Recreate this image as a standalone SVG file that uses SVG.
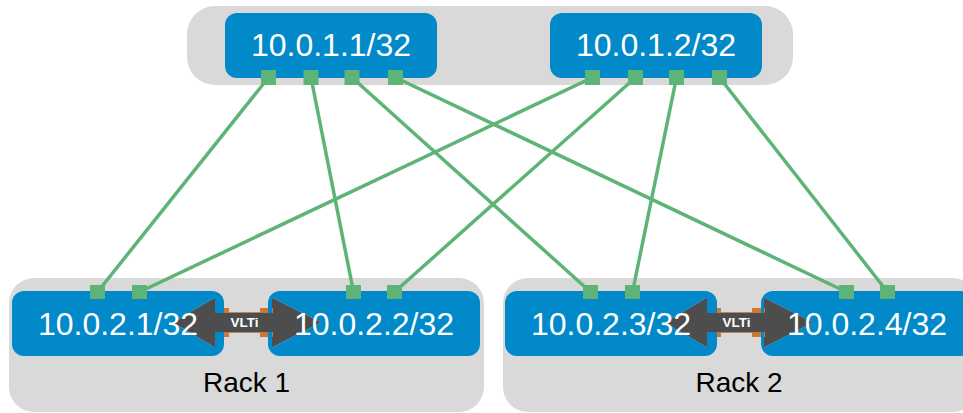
<svg xmlns="http://www.w3.org/2000/svg" xmlns:xlink="http://www.w3.org/1999/xlink" width="963" height="413" viewBox="0 0 963 413">
  <style>
    .container { fill: #D9D9D9; }
    .node { fill: #0289CA; }
    .port { fill: #5DB476; }
    .link { stroke: #5DB476; stroke-width: 3.5; fill: none; }
    .label { font-family: "Liberation Sans", Arial, sans-serif; font-size: 32px; fill: #FFFFFF; text-anchor: middle; }
    .rack { font-family: "Liberation Sans", Arial, sans-serif; font-size: 28px; fill: #000000; text-anchor: middle; }
    .vlti-text { font-family: "Liberation Sans", Arial, sans-serif; font-size: 13.5px; font-weight: bold; fill: #FFFFFF; text-anchor: middle; }
    .arrow { fill: #4D4D4D; }
    .orange { fill: #D07634; }
  </style>
  <defs>
    <path id="vlti-shape" d="M173,322.5 L215,297.5 L215,313 L272,313 L272,297.5 L321,322.5 L272,347.5 L272,332 L215,332 L215,347.5 Z"/>
    <mask id="cut-vlti" maskUnits="userSpaceOnUse" x="0" y="0" width="963" height="413">
      <rect x="0" y="0" width="963" height="413" fill="#FFFFFF"/>
      <use xlink:href="#vlti-shape" fill="#000000"/>
      <use xlink:href="#vlti-shape" fill="#000000" transform="translate(492,0)"/>
    </mask>
    <g id="vlti">
      <rect x="215" y="312.3" width="57" height="20.4" fill="#A0643A"/>
      <use xlink:href="#vlti-shape" class="arrow"/>
      <rect class="orange" x="216" y="308" width="13" height="5"/>
      <rect class="orange" x="260" y="308" width="13" height="5"/>
      <rect class="orange" x="216" y="332" width="13" height="5"/>
      <rect class="orange" x="260" y="332" width="13" height="5"/>
    </g>
  </defs>

  <g id="containers">
    <rect id="spine-container" class="container" x="187" y="6" width="606" height="79" rx="28" ry="28"/>
    <g id="rack1">
      <rect class="container" x="9" y="278" width="475" height="134" rx="25" ry="25"/>
      <text class="rack" x="246.5" y="392">Rack 1</text>
    </g>
    <g id="rack2">
      <rect class="container" x="503" y="278" width="475" height="134" rx="25" ry="25"/>
      <text class="rack" x="739" y="392">Rack 2</text>
    </g>
  </g>

  <g id="connectors">
    <line class="link" x1="268.5" y1="77.5" x2="97.5" y2="292"/>
    <line class="link" x1="311" y1="77.5" x2="353.5" y2="292"/>
    <line class="link" x1="352" y1="77.5" x2="590.5" y2="292"/>
    <line class="link" x1="395.5" y1="77.5" x2="846.5" y2="292"/>
    <line class="link" x1="592.5" y1="77.5" x2="139.5" y2="292"/>
    <line class="link" x1="635.5" y1="77.5" x2="394.5" y2="292"/>
    <line class="link" x1="676.5" y1="77.5" x2="632.5" y2="292"/>
    <line class="link" x1="719.5" y1="77.5" x2="887.5" y2="292"/>
    <g id="vlti-rack1">
      <use xlink:href="#vlti"/>
      <text class="vlti-text" x="244.5" y="326.5">VLTi</text>
    </g>
    <g id="vlti-rack2" transform="translate(492,0)">
      <use xlink:href="#vlti"/>
      <text class="vlti-text" x="244.5" y="326.5">VLTi</text>
    </g>
  </g>

  <g id="node-10-0-1-1">
    <rect class="node" x="225" y="13" width="212" height="65" rx="12" ry="12"/>
    <rect class="port" x="261" y="70" width="15" height="15"/>
    <rect class="port" x="303.5" y="70" width="15" height="15"/>
    <rect class="port" x="344.5" y="70" width="15" height="15"/>
    <rect class="port" x="388" y="70" width="15" height="15"/>
    <text class="label" x="331" y="56">10.0.1.1/32</text>
  </g>
  <g id="node-10-0-1-2">
    <rect class="node" x="550" y="13" width="212" height="65" rx="12" ry="12"/>
    <rect class="port" x="585" y="70" width="15" height="15"/>
    <rect class="port" x="628" y="70" width="15" height="15"/>
    <rect class="port" x="669" y="70" width="15" height="15"/>
    <rect class="port" x="712" y="70" width="15" height="15"/>
    <text class="label" x="656" y="56">10.0.1.2/32</text>
  </g>

  <g id="node-10-0-2-1">
    <rect class="node" x="12" y="291" width="212" height="65" rx="12" ry="12" mask="url(#cut-vlti)"/>
    <rect class="port" x="90" y="285" width="15" height="14"/>
    <rect class="port" x="132" y="285" width="15" height="14"/>
    <text class="label" x="118" y="334.5">10.0.2.1/32</text>
  </g>
  <g id="node-10-0-2-2">
    <rect class="node" x="268" y="291" width="212" height="65" rx="12" ry="12" mask="url(#cut-vlti)"/>
    <rect class="port" x="346" y="285" width="15" height="14"/>
    <rect class="port" x="387" y="285" width="15" height="14"/>
    <text class="label" x="374" y="334.5">10.0.2.2/32</text>
  </g>
  <g id="node-10-0-2-3">
    <rect class="node" x="505" y="291" width="212" height="65" rx="12" ry="12" mask="url(#cut-vlti)"/>
    <rect class="port" x="583" y="285" width="15" height="14"/>
    <rect class="port" x="625" y="285" width="15" height="14"/>
    <text class="label" x="611" y="334.5">10.0.2.3/32</text>
  </g>
  <g id="node-10-0-2-4">
    <rect class="node" x="761" y="291" width="212" height="65" rx="12" ry="12" mask="url(#cut-vlti)"/>
    <rect class="port" x="839" y="285" width="15" height="14"/>
    <rect class="port" x="880" y="285" width="15" height="14"/>
    <text class="label" x="867" y="334.5">10.0.2.4/32</text>
  </g>
</svg>
